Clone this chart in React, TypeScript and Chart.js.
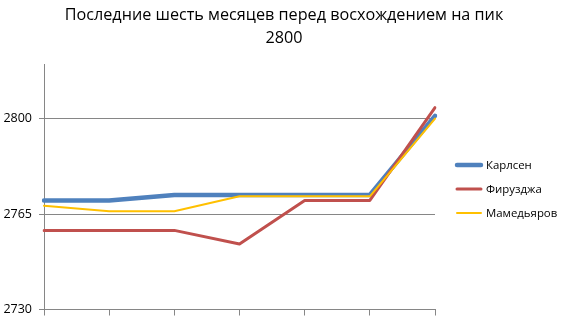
import React, { useEffect, useRef } from "react";
import { Chart, registerables } from "chart.js";

Chart.register(...registerables);

const titleLines = ["Последние шесть месяцев перед восхождением на пик", "2800"];
const categories = ["", "", "", "", "", "", ""];
const carlsen = [2770, 2770, 2772, 2772, 2772, 2772, 2801];
const firouzja = [2759, 2759, 2759, 2754, 2770, 2770, 2804];
const mamedyarov = [2768, 2766, 2766, 2771.5, 2771.5, 2771.5, 2800];
const seriesNames = ["Карлсен", "Фирузджа", "Мамедьяров"];
const colors = ["#4F81BD", "#C0504D", "#FFC000"];
const widths = [4.5, 3, 2];
const yTicks = [2730, 2765, 2800];

const FONT = "'Open Sans', 'Noto Sans', sans-serif";

const overlay = {
  id: "overlay",
  afterDraw(chart: any) {
    const ctx = chart.ctx as CanvasRenderingContext2D;
    ctx.save();
    ctx.fillStyle = "#000";
    ctx.textAlign = "center";
    ctx.textBaseline = "alphabetic";
    ctx.font = `16.2px ${FONT}`;
    ctx.fillText(titleLines[0], 284, 20);
    ctx.fillText(titleLines[1], 284, 43);
    const ys = [165, 189, 213];
    chart.data.datasets.forEach((ds: any, i: number) => {
      const y = ys[i];
      ctx.strokeStyle = ds.borderColor;
      ctx.lineWidth = ds.borderWidth;
      ctx.lineCap = "round";
      ctx.beginPath();
      ctx.moveTo(457, y);
      ctx.lineTo(481, y);
      ctx.stroke();
      ctx.fillStyle = "#000";
      ctx.textAlign = "left";
      ctx.textBaseline = "middle";
      ctx.font = `11.4px ${FONT}`;
      ctx.fillText(ds.label, 486, y + 0.5);
    });
    ctx.restore();
  },
};

export default function App() {
  const ref = useRef<HTMLCanvasElement | null>(null);
  useEffect(() => {
    document.body.style.margin = "0";
    if (!ref.current) return;
    const series = [carlsen, firouzja, mamedyarov];
    const chart = new Chart(ref.current, {
      type: "line",
      data: {
        labels: categories,
        datasets: series.map((data, i) => ({
          label: seriesNames[i],
          data,
          borderColor: colors[i],
          backgroundColor: colors[i],
          borderWidth: widths[i],
          order: 2 - i,
          pointRadius: 0,
          pointHoverRadius: 0,
          tension: 0,
          borderJoinStyle: "round" as const,
          borderCapStyle: "round" as const,
          fill: false,
        })),
      },
      options: {
        animation: false,
        responsive: false,
        maintainAspectRatio: false,
        devicePixelRatio: 1,
        layout: { padding: { top: 64, right: 129, left: 0, bottom: 0 } },
        plugins: { legend: { display: false }, title: { display: false }, tooltip: { enabled: false } },
        scales: {
          x: {
            offset: false,
            grid: { drawOnChartArea: false, drawTicks: true, tickLength: 6, color: "#868686", lineWidth: 1 },
            border: { color: "#868686", width: 1 },
            ticks: { display: true, autoSkip: false, maxRotation: 0 },
            afterFit: (s: any) => { s.height = 13; },
          },
          y: {
            min: 2730,
            max: 2820,
            ticks: {
              stepSize: 35,
              padding: 7,
              color: "#000",
              font: { family: FONT, size: 12.5 },
              callback: (v: any) => String(v),
            },
            afterBuildTicks: (s: any) => { s.ticks = yTicks.map((v) => ({ value: v })); },
            grid: { color: "#868686", lineWidth: 1, tickLength: 5, drawTicks: true },
            border: { color: "#868686", width: 1 },
            afterFit: (s: any) => { s.width = 44; },
          },
        },
      },
      plugins: [overlay],
    });
    return () => chart.destroy();
  }, []);
  return (
    <div style={{ width: 564, height: 324 }}>
      <canvas ref={ref} width={564} height={324} style={{ width: 564, height: 324, display: "block" }} />
    </div>
  );
}
